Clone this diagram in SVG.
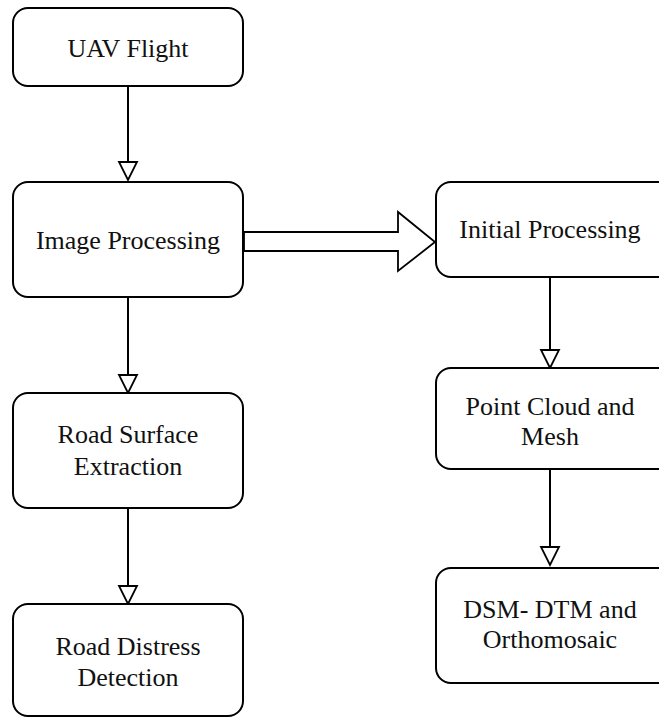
<svg xmlns="http://www.w3.org/2000/svg" width="659" height="718" viewBox="0 0 659 718">
<style>
.box{fill:#fff;stroke:#000;stroke-width:2}
.t{font-family:'Liberation Serif','Times New Roman','DejaVu Serif',serif;font-size:26px;fill:#111;text-anchor:middle}
.ln{stroke:#000;stroke-width:2;fill:none}
.hd{fill:#fff;stroke:#000;stroke-width:1.8}
</style>
<rect width="659" height="718" fill="#fff"/>
<g id="connectors">
<line class="ln" x1="128" y1="86" x2="128" y2="162"/>
<path class="hd" d="M119,162 L137,162 L128,180 Z"/>
<line class="ln" x1="128" y1="297" x2="128" y2="375"/>
<path class="hd" d="M119,375 L137,375 L128,393 Z"/>
<line class="ln" x1="128" y1="508" x2="128" y2="586"/>
<path class="hd" d="M119,586 L137,586 L128,604 Z"/>
<line class="ln" x1="550" y1="277" x2="550" y2="350"/>
<path class="hd" d="M541,350 L559,350 L550,368 Z"/>
<line class="ln" x1="550" y1="469" x2="550" y2="547"/>
<path class="hd" d="M541,547 L559,547 L550,565 Z"/>
<path class="hd" d="M244,232 L398,232 L398,212 L435,242 L398,271 L398,251 L244,251 Z"/>
</g>
<g id="uav"><rect class="box" x="13" y="8" width="230" height="78" rx="15"/><text class="t" x="128" y="57" font-family="Liberation Serif, serif">UAV Flight</text></g>
<g id="image"><rect class="box" x="13" y="182" width="230" height="115" rx="15"/><text class="t" x="128" y="249">Image Processing</text></g>
<g id="road-surface"><rect class="box" x="13" y="393" width="230" height="115" rx="15"/><text class="t" x="128" y="443">Road Surface</text><text class="t" x="128" y="475">Extraction</text></g>
<g id="road-distress"><rect class="box" x="13" y="604" width="230" height="112" rx="15"/><text class="t" x="128" y="655">Road Distress</text><text class="t" x="128" y="686">Detection</text></g>
<g id="initial"><rect class="box" x="436" y="182" width="240" height="95" rx="15"/><text class="t" x="550" y="238">Initial Processing</text></g>
<g id="pointcloud"><rect class="box" x="436" y="368" width="240" height="101" rx="15"/><text class="t" x="550" y="415">Point Cloud and</text><text class="t" x="550" y="445">Mesh</text></g>
<g id="dsm"><rect class="box" x="436" y="568" width="240" height="115" rx="15"/><text class="t" x="550" y="618">DSM- DTM and</text><text class="t" x="550" y="648">Orthomosaic</text></g>
</svg>
